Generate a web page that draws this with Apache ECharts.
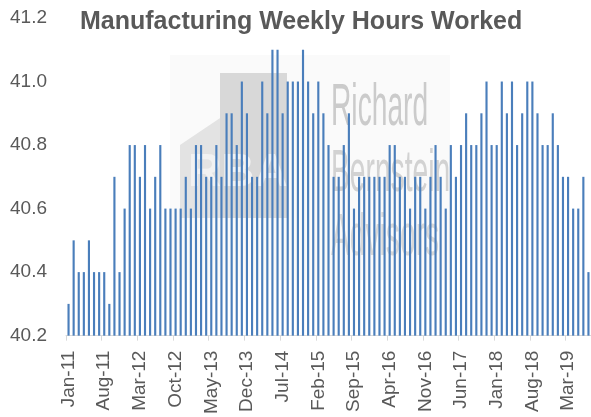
<!DOCTYPE html>
<html>
<head>
<meta charset="utf-8">
<script src="https://cdn.jsdelivr.net/npm/echarts@6/dist/echarts.min.js"></script>
<style>
html,body{margin:0;padding:0;background:#fff;}
#chart{width:591px;height:417px;}
</style>
</head>
<body>
<div id="chart"></div>
<script>
var titleText = 'Manufacturing Weekly Hours Worked';

var months = [
  'Jan-11','Feb-11','Mar-11','Apr-11','May-11','Jun-11','Jul-11','Aug-11','Sep-11','Oct-11','Nov-11','Dec-11',
  'Jan-12','Feb-12','Mar-12','Apr-12','May-12','Jun-12','Jul-12','Aug-12','Sep-12','Oct-12','Nov-12','Dec-12',
  'Jan-13','Feb-13','Mar-13','Apr-13','May-13','Jun-13','Jul-13','Aug-13','Sep-13','Oct-13','Nov-13','Dec-13',
  'Jan-14','Feb-14','Mar-14','Apr-14','May-14','Jun-14','Jul-14','Aug-14','Sep-14','Oct-14','Nov-14','Dec-14',
  'Jan-15','Feb-15','Mar-15','Apr-15','May-15','Jun-15','Jul-15','Aug-15','Sep-15','Oct-15','Nov-15','Dec-15',
  'Jan-16','Feb-16','Mar-16','Apr-16','May-16','Jun-16','Jul-16','Aug-16','Sep-16','Oct-16','Nov-16','Dec-16',
  'Jan-17','Feb-17','Mar-17','Apr-17','May-17','Jun-17','Jul-17','Aug-17','Sep-17','Oct-17','Nov-17','Dec-17',
  'Jan-18','Feb-18','Mar-18','Apr-18','May-18','Jun-18','Jul-18','Aug-18','Sep-18','Oct-18','Nov-18','Dec-18',
  'Jan-19','Feb-19','Mar-19','Apr-19','May-19','Jun-19','Jul-19'
];

var hoursWorked = [
  40.3,40.5,40.4,40.4,40.5,40.4,40.4,40.4,40.3,40.7,40.4,40.6,
  40.8,40.8,40.7,40.8,40.6,40.7,40.8,40.6,40.6,40.6,40.6,40.7,
  40.6,40.8,40.8,40.7,40.7,40.8,40.7,40.9,40.9,40.8,41.0,40.9,
  40.7,40.7,41.0,40.9,41.1,41.1,40.9,41.0,41.0,41.0,41.1,41.0,
  40.9,41.0,40.9,40.8,40.7,40.7,40.8,40.9,40.6,40.7,40.7,40.7,
  40.7,40.7,40.7,40.8,40.8,40.7,40.7,40.6,40.7,40.7,40.6,40.7,
  40.8,40.7,40.6,40.8,40.7,40.8,40.9,40.8,40.8,40.9,41.0,40.8,
  40.8,41.0,40.9,41.0,40.8,40.9,41.0,41.0,40.9,40.8,40.8,40.9,
  40.8,40.7,40.7,40.6,40.6,40.7,40.4
];

var yMin = 40.2, yMax = 41.2, yStep = 0.2;
var watermarkLines = ['Richard', 'Bernstein', 'Advisors'];

var chart = echarts.init(document.getElementById('chart'), null, {renderer: 'canvas'});
var FONT = '"Liberation Sans", Arial, sans-serif';

var option = {
  backgroundColor: '#ffffff',
  animation: false,
  title: {
    text: titleText,
    left: 80,
    top: 10,
    padding: 0,
    textStyle: {fontFamily: FONT, fontSize: 25, fontWeight: 'bold', color: '#595959', lineHeight: 25}
  },
  graphic: [
    {type: 'rect', z: -10, shape: {x: 170, y: 55, width: 280, height: 225}, style: {fill: '#fafafa'}},
    {type: 'polygon', z: -9, shape: {points: [[180, 145], [287, 73], [287, 218], [180, 218]]}, style: {fill: '#e3e3e3'}},
    {type: 'rect', z: -9, shape: {x: 220, y: 73, width: 67, height: 145}, style: {fill: '#d8d8d8'}},
    {type: 'text', z: -8, left: 188, top: 150, style: {text: 'RBA', fill: '#f2f2f2', font: 'bold 46px ' + FONT}},
    {type: 'text', z: -8, x: 331, y: 78, scaleX: 0.47, style: {text: watermarkLines[0], fill: '#cbcbcb', font: '60px ' + FONT}},
    {type: 'text', z: -8, x: 331, y: 144, scaleX: 0.47, style: {text: watermarkLines[1], fill: '#d2d2d2', font: '60px ' + FONT}},
    {type: 'text', z: -8, x: 331, y: 208, scaleX: 0.47, style: {text: watermarkLines[2], fill: '#d8d8d8', font: '60px ' + FONT}}
  ],
  grid: {left: 66, right: 0, top: 18, bottom: 78, containLabel: false},
  xAxis: {
    type: 'category',
    data: months,
    boundaryGap: true,
    axisLine: {show: true, lineStyle: {color: '#d9d9d9', width: 1}},
    axisTick: {show: true, interval: 6, length: 5, lineStyle: {color: '#d9d9d9'}},
    axisLabel: {
      interval: 6, rotate: 90, margin: 15,
      fontFamily: FONT, fontSize: 19, color: '#595959'
    },
    splitLine: {show: false}
  },
  yAxis: {
    type: 'value',
    min: yMin, max: yMax, interval: yStep,
    axisLine: {show: false},
    axisTick: {show: false},
    splitLine: {show: false},
    axisLabel: {
      margin: 19,
      fontFamily: FONT, fontSize: 19, color: '#595959',
      formatter: function (v) { return v.toFixed(1); }
    }
  },
  series: [{
    type: 'bar',
    z: 2,
    data: hoursWorked,
    barWidth: '42%',
    itemStyle: {color: '#4A7EBB'}
  }]
};
chart.setOption(option);
</script>
</body>
</html>
